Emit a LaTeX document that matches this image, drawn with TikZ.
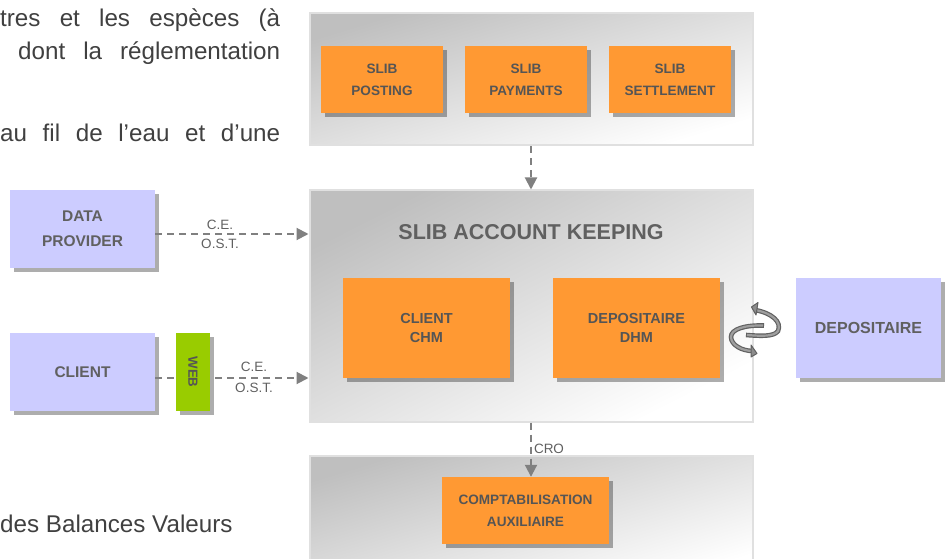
\documentclass[tikz,border=0pt]{standalone}
\usepackage{fontspec}
\setmainfont{Liberation Sans}
\usetikzlibrary{arrows.meta,shadows}
\definecolor{lav}{HTML}{CCCCFF}
\definecolor{org}{HTML}{FF9933}
\definecolor{grn}{HTML}{99CC00}
\definecolor{txtg}{HTML}{606060}
\definecolor{txto}{HTML}{555555}
\definecolor{bodyt}{HTML}{404040}
\definecolor{conn}{HTML}{808080}
\tikzset{
  shad/.style={drop shadow={shadow xshift=4pt,shadow yshift=-4pt,fill=black,opacity=.32}},
  panel/.style={rectangle,inner sep=0pt,draw=black!12,line width=2pt,top color=black!25,bottom color=white,shading angle=#1},
  orangebox/.style={rectangle,inner sep=0pt,fill=org,shad,align=center,text=txto,font=\bfseries\fontsize{13.6}{22}\selectfont},
  bigorange/.style={orangebox,minimum width=167pt,minimum height=100pt,font=\bfseries\fontsize{14.5}{19}\selectfont},
  lavbox/.style={rectangle,inner sep=0pt,fill=lav,shad,align=center,text=txtg,font=\bfseries\fontsize{15.5}{25}\selectfont},
  conntxt/.style={text=txtg,inner sep=0pt,font=\fontsize{13.5}{16}\selectfont},
  bodytxt/.style={text=bodyt,inner sep=0pt,anchor=base west,font=\fontsize{24.2}{28}\selectfont},
  flow/.style={draw=conn,line width=2pt,dash pattern=on 7pt off 5pt,-{Triangle[length=12pt,width=12pt,fill=conn]}},
  swirl/.style={draw=black!62,line width=4.6pt,line cap=butt},
  swirlin/.style={draw=black!38,line width=2.2pt,line cap=butt},
  swirlhead/.style={fill=black!45,draw=black!62,line width=1pt,line join=round}
}
\begin{document}
\begin{tikzpicture}[x=1pt,y=-1pt]
\clip (0,0) rectangle (946,559);
% text
\node[bodytxt] (t1) at (0,27) {\makebox[280pt][s]{tres et les espèces (à}};
\node[bodytxt] (t2) at (18,60) {\makebox[262pt][s]{dont la réglementation}};
\node[bodytxt] (t3) at (0,142) {\makebox[280pt][s]{au fil de l’eau et d’une}};
\node[bodytxt] (t4) at (0,532) {des Balances Valeurs};
% panels
\node[panel=17,minimum width=443pt,minimum height=132pt] (top) at (531,79.5) {};
\node[panel=27,minimum width=443pt,minimum height=231pt] (mid) at (531,306) {};
\node[panel=17,minimum width=443pt,minimum height=125pt] (bot) at (531,518) {};
% top boxes
\node[orangebox,minimum width=122pt,minimum height=67pt] (posting) at (382,79.5) {SLIB\\POSTING};
\node[orangebox,minimum width=122pt,minimum height=67pt] (payments) at (526,79.5) {SLIB\\PAYMENTS};
\node[orangebox,minimum width=122pt,minimum height=67pt] (settlement) at (670,79.5) {SLIB\\SETTLEMENT};
% middle
\node[text=txtg,inner sep=0pt,font=\bfseries\fontsize{21.5}{24}\selectfont] (akt) at (531,232) {SLIB ACCOUNT KEEPING};
\node[bigorange] (chm) at (426.5,328) {CLIENT\\CHM};
\node[bigorange] (dhm) at (636.5,328) {DEPOSITAIRE\\DHM};
% bottom
\node[orangebox,minimum width=167pt,minimum height=67pt] (compta) at (525.5,510.5) {COMPTABILISATION\\AUXILIAIRE};
% left / right boxes
\node[lavbox,minimum width=145pt,minimum height=78pt] (data) at (82.5,229) {DATA\\PROVIDER};
\node[lavbox,minimum width=145pt,minimum height=78pt] (client) at (82.5,372) {CLIENT};
\node[lavbox,minimum width=145pt,minimum height=100pt,font=\bfseries\fontsize{16}{20}\selectfont] (dep) at (868.5,328) {DEPOSITAIRE};
% anchors for connectors
\coordinate (d1) at (data.east |- 0,234);
\coordinate (d2) at (mid.west |- 0,234);
\coordinate (c1) at (client.east |- 0,378);
\coordinate (c2) at (mid.west |- 0,378);
\coordinate (m1) at (mid.south);
\coordinate (m2) at (mid.south |- compta.north);
% connectors
\draw[flow] (top.south) -- (mid.north);
\draw[flow] (d1) -- (d2);
\draw[flow] (c1) -- (c2);
\draw[flow] (m1) -- (m2);
% web, drawn over its connector
\node[rectangle,inner sep=0pt,fill=grn,shad,minimum width=34pt,minimum height=78pt,text=txto] (web) at (193,372) {\rotatebox{-90}{\bfseries\fontsize{13.3}{16}\selectfont WEB}};
% labels
\node[conntxt] (l1) at (220,225) {C.E.};
\node[conntxt] (l2) at (220,244) {O.S.T.};
\node[conntxt] (l3) at (254,367) {C.E.};
\node[conntxt] (l4) at (254,388) {O.S.T.};
\node[conntxt] (l5) at (549,449) {CRO};
% swirl arrows
\draw[swirl] (755,310) .. controls (772,313) and (782,322) .. (778,331) .. controls (774,337) and (760,336) .. (746,335);
\draw[swirlin] (755,310) .. controls (772,313) and (782,322) .. (778,331) .. controls (774,337) and (760,336) .. (747,335);
\draw[swirl] (764,325.5) .. controls (745,325) and (731,329) .. (731,337) .. controls (731,345) and (742,351) .. (753,351);
\draw[swirlin] (763,325.5) .. controls (745,325) and (731,329) .. (731,337) .. controls (731,345) and (742,351) .. (753,351);
\fill[swirlhead] (751.5,307) -- (758,302.5) -- (756,315) -- cycle;
\fill[swirlhead] (757,353.5) -- (751,357) -- (751,345) -- cycle;
\end{tikzpicture}
\end{document}
